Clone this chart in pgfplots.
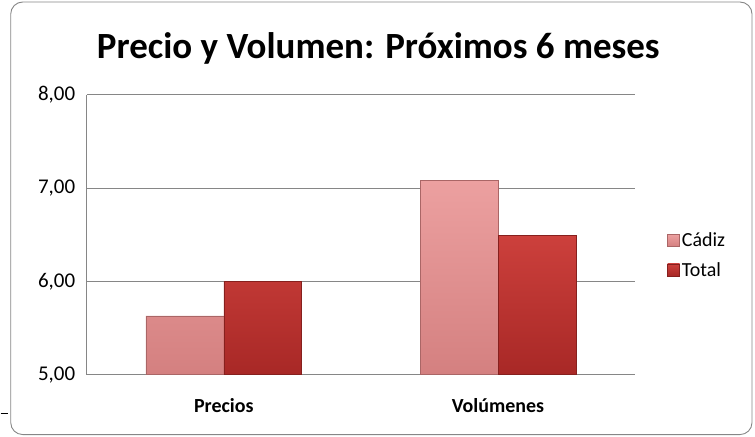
\documentclass[border=0pt]{standalone}
\usepackage{pgfplots}
\pgfplotsset{compat=1.18}
\usepackage{fontspec}
\setmainfont{Carlito}
\definecolor{gridgray}{RGB}{134,134,134}
\definecolor{cadizTop}{RGB}{236,160,160}
\definecolor{cadizBot}{RGB}{212,128,128}
\definecolor{totTop}{RGB}{204,64,60}
\definecolor{totBot}{RGB}{168,40,38}
\begin{document}
\begin{tikzpicture}[x=1pt,y=1pt]
\path (-86,-62) rectangle (669,375);
\draw[gridgray, line width=0.9pt, rounded corners=12pt] (-76,-60) rectangle (666,373);
\draw[black, line width=1.5pt] (-86,-39) -- (-79,-39);
\node[font=\bfseries\fontsize{37}{40}\selectfont, text=black] at (292,327) {Precio y Volumen: Próximos 6 meses};
\begin{axis}[
  at={(0,0)}, anchor=south west,
  scale only axis, width=549pt, height=280pt,
  ymin=5, ymax=8, ytick={5,6,7,8},
  xmin=-0.5, xmax=1.5, xtick={0,1}, xticklabels={Precios,Volúmenes},
  x tick label style={font=\bfseries\fontsize{20}{22}\selectfont, yshift=-20pt},
  y tick label style={font=\fontsize{21}{23}\selectfont, xshift=-8pt},
  /pgf/number format/assume math mode=true,
  yticklabel={\pgfmathprintnumber[fixed,fixed zerofill,precision=2,use comma]{\tick}},
  axis x line*=bottom, axis y line*=left,
  axis line style={gridgray, line width=0.9pt},
  x axis line style={line width=1.6pt},
  ymajorgrids, grid style={gridgray, line width=0.9pt},
  major tick length=0pt, tick style={draw=none},
  ybar=0pt, bar width=78pt,
  legend style={draw=none, fill=none, at={(1.053,0.427)}, anchor=west,
    font=\fontsize{20}{22}\selectfont, row sep=10pt,
    legend cell align=left},
  legend image code/.code={\draw[#1] (0pt,-6pt) rectangle (12pt,6pt);},
  clip=false,
]
\addplot[draw=cadizBot!80!black, line width=0.5pt, top color=cadizTop, bottom color=cadizBot] coordinates {(0,5.63) (1,7.08)};
\addplot[draw=totBot!80!black, line width=0.5pt, top color=totTop, bottom color=totBot] coordinates {(0,6.00) (1,6.49)};
\legend{Cádiz,Total}
\end{axis}
\end{tikzpicture}
\end{document}
